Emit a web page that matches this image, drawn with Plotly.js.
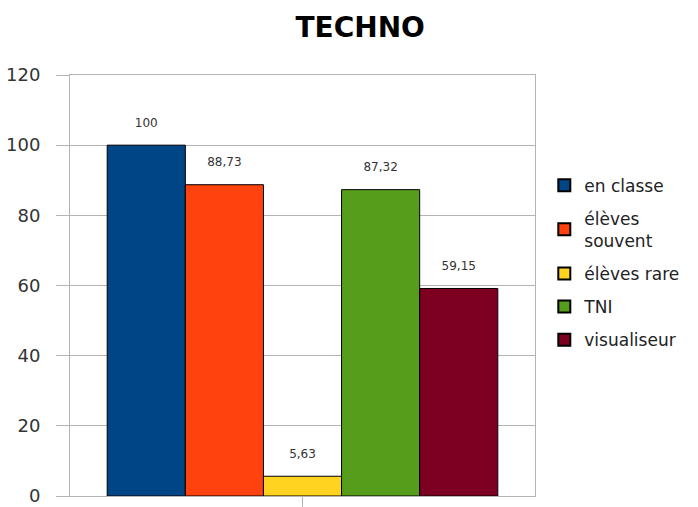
<!DOCTYPE html>
<html>
<head>
<meta charset="utf-8">
<script src="https://cdn.plot.ly/plotly-3.0.1.min.js"></script>
<style>html,body{margin:0;padding:0;background:#fff;}#chart{width:698px;height:507px;}</style>
</head>
<body>
<div id="chart"></div>
<script>
const category = [""];
const seriesNames = ["en classe", "élèves<br>souvent", "élèves rare", "TNI", "visualiseur"];
const seriesValues = [100, 88.73, 5.63, 87.32, 59.15];
const seriesColors = ["#004586", "#ff420e", "#ffd320", "#579d1c", "#7e0021"];
const yTicks = [0, 20, 40, 60, 80, 100, 120];

const fontFam = "DejaVu Sans, Liberation Sans, Arial, sans-serif";
const traces = seriesNames.map((name, i) => ({
  type: "bar",
  name: name,
  legendgroup: "g" + i,
  x: category,
  y: [seriesValues[i]],
  text: [String(seriesValues[i]).replace(".", ",") + "<br><span style='font-size:1px'>\u00a0</span>"],
  textposition: "outside",
  cliponaxis: false,
  textfont: {family: fontFam, size: 12, color: "#333"},
  marker: {color: seriesColors[i], line: {color: "#000", width: 1}},
  hoverinfo: "skip"
}));

const layout = {
  width: 698, height: 507,
  margin: {l: 70, r: 163, t: 75, b: 11},
  paper_bgcolor: "#fff", plot_bgcolor: "#fff",
  font: {family: fontFam, color: "#333"},
  title: {text: "<b>TECHNO</b>", font: {family: fontFam, size: 28, color: "#000"}, x: 0.516, xanchor: "center", y: 0.947, yanchor: "middle"},
  barmode: "group", bargap: 0.16, bargroupgap: 0,
  showlegend: true,
  legend: {x: 1.02, xanchor: "left", y: 0.78, yanchor: "top", font: {family: fontFam, size: 17, color: "#222"}, tracegroupgap: 8, itemsizing: "constant"},
  xaxis: {showline: true, linecolor: "#b3b3b3", mirror: true, ticks: "outside", ticklen: 10, tickcolor: "#b3b3b3", showticklabels: false, showgrid: false, zeroline: false},
  yaxis: {range: [0, 120], tickvals: yTicks, showline: true, linecolor: "#b3b3b3", mirror: true, ticks: "outside", ticklen: 13, tickcolor: "#b3b3b3", showgrid: true, gridcolor: "#b3b3b3", zeroline: false, tickfont: {family: fontFam, size: 18, color: "#333"}, ticklabelstandoff: 12}
};
Plotly.newPlot("chart", traces, layout, {displayModeBar: false, staticPlot: true});
</script>
</body>
</html>
